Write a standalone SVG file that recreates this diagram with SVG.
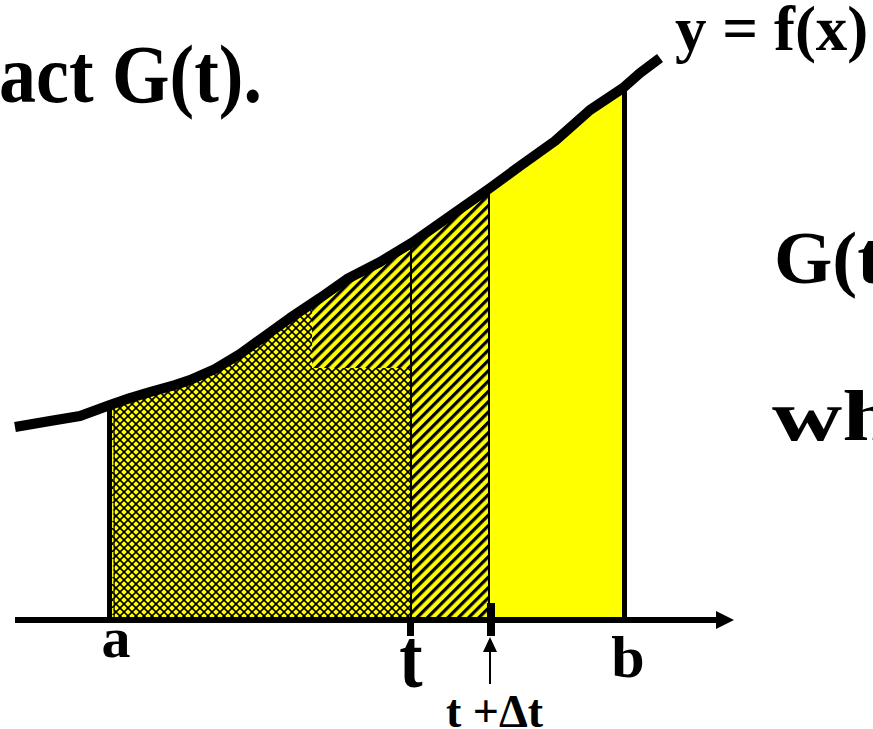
<svg xmlns="http://www.w3.org/2000/svg" width="873" height="729" viewBox="0 0 873 729">
  <style>
    .lbl { font-family: "Liberation Serif", Tinos, "DejaVu Serif", serif; font-weight: 700; fill: #000; }
  </style>
  <defs>
    <pattern id="cross" patternUnits="userSpaceOnUse" width="8" height="8">
      <rect width="8" height="8" fill="#ffff00"/>
      <path d="M-1,-1 L9,9 M9,-1 L-1,9" stroke="#000" stroke-width="1.6"/>
    </pattern>
    <pattern id="diag" patternUnits="userSpaceOnUse" width="7.3" height="10" patternTransform="rotate(45)">
      <rect width="7.3" height="10" fill="#ffff00"/>
      <rect width="3.2" height="10" fill="#000"/>
    </pattern>
    <clipPath id="under">
      <polygon points="110,405 130,398 150,392 175,385 190,380 215,369 240,354 265,336 290,318 320,298 347,279 380,262 413,242 450,216 490,188 520,166 555,141 590,110 623,88 623,620 110,620"/>
    </clipPath>
  </defs>

  <g id="area" clip-path="url(#under)">
    <rect x="110" y="0" width="513" height="620" fill="#ffff00"/>
    <rect x="312" y="0" width="178" height="620" fill="url(#diag)"/>
    <rect x="112" y="0" width="200" height="620" fill="url(#cross)"/>
    <rect x="312" y="368" width="98" height="252" fill="url(#cross)"/>
  </g>

  <g id="verticals" stroke="#000">
    <line x1="109.5" y1="403" x2="109.5" y2="620" stroke-width="5"/>
    <line x1="112.8" y1="405" x2="112.8" y2="620" stroke="#ffff00" stroke-width="1.5" stroke-dasharray="4,3"/>
    <line x1="114.2" y1="405" x2="114.2" y2="620" stroke-width="1"/>
    <line x1="411" y1="241" x2="411" y2="620" stroke-width="2"/>
    <line x1="489" y1="188" x2="489" y2="620" stroke-width="2"/>
    <line x1="624.5" y1="88" x2="624.5" y2="620" stroke-width="5"/>
  </g>

  <g id="curve">
    <polyline points="15,427 50,421 80,416 110,405 130,398 150,392 175,385 190,380 215,369 240,354 265,336 290,318 320,298 347,279 380,262 413,242 450,216 490,188 520,166 555,141 590,110 623,88 640,73 660,58" fill="none" stroke="#000" stroke-width="10" stroke-linejoin="round"/>
  </g>

  <g id="axis">
    <line x1="15" y1="620" x2="718" y2="620" stroke="#000" stroke-width="6"/>
    <polygon points="716,611 734,620 716,629" fill="#000"/>
    <rect x="407" y="618" width="7" height="18" fill="#000"/>
    <rect x="487" y="603" width="8" height="33" fill="#000"/>
  </g>

  <g id="connectors">
    <line x1="490" y1="684" x2="490" y2="650" stroke="#000" stroke-width="2"/>
    <polygon points="490,637 483,652 497,652" fill="#000"/>
  </g>

  <g id="labels">
    <text class="lbl" transform="translate(262,102) scale(1,1.12)" font-size="74" text-anchor="end">act G(t).</text>
    <text class="lbl" x="675" y="50" font-size="63">y = f(x)</text>
    <text class="lbl" x="774" y="283" font-size="75">G(t</text>
    <text class="lbl" transform="translate(772,440) scale(1.35,1)" font-size="72">wh</text>
    <text class="lbl" x="116" y="657" font-size="58" text-anchor="middle">a</text>
    <text class="lbl" transform="translate(411,687) scale(1,1.2)" font-size="70" text-anchor="middle">t</text>
    <text class="lbl" x="628" y="677" font-size="60" text-anchor="middle">b</text>
    <text class="lbl" x="446" y="727" font-size="46">t +Δt</text>
  </g>
</svg>
